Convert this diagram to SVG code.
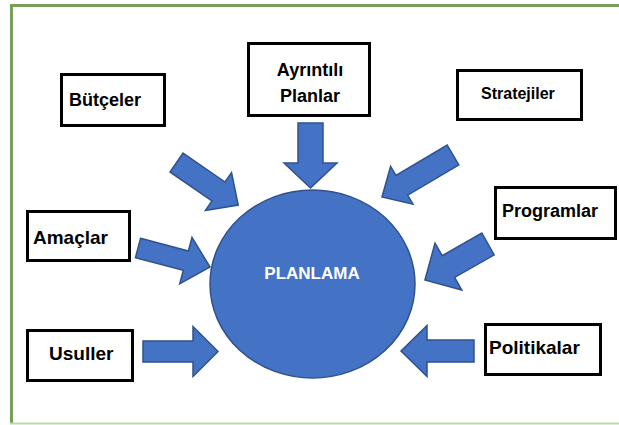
<svg xmlns="http://www.w3.org/2000/svg" width="619" height="425" viewBox="0 0 619 425">
<style>
.box{fill:#fff;stroke:#000;stroke-width:3}
.lbl{font-family:"Liberation Sans",Arial,sans-serif;font-weight:bold;fill:#000}
.arr{fill:#4472C4;stroke:#2F528F;stroke-width:1.5;stroke-linejoin:miter}
</style>
<rect x="0" y="0" width="619" height="425" fill="#fff"/>
<g id="frame">
<line x1="11.5" y1="5.5" x2="619" y2="5.5" stroke="#76A05A" stroke-width="3"/>
<line x1="11.5" y1="4" x2="11.5" y2="424" stroke="#76A05A" stroke-width="3"/>
<line x1="10" y1="423.5" x2="619" y2="423.5" stroke="#B9DBA2" stroke-width="2"/>
</g>
<g id="connectors">
<polygon class="arr" transform="translate(310.5,123) rotate(90)" points="0,-12.5 40,-12.5 40,-26.5 65,0 40,26.5 40,12.5 0,12.5"/>
<polygon class="arr" transform="translate(176.5,162.5) rotate(34.6)" points="0,-11.5 51,-11.5 51,-23 75,0 51,23 51,11.5 0,11.5"/>
<polygon class="arr" transform="translate(453,155) rotate(149.4)" points="0,-11.5 59.5,-11.5 59.5,-22 82.5,0 59.5,22 59.5,11.5 0,11.5"/>
<polygon class="arr" transform="translate(138,248) rotate(14.8)" points="0,-10 49.5,-10 49.5,-24 74.5,0 49.5,24 49.5,10 0,10"/>
<polygon class="arr" transform="translate(143,351.5) rotate(0)" points="0,-10.5 50,-10.5 50,-25 75,0 50,25 50,10.5 0,10.5"/>
<polygon class="arr" transform="translate(488,244) rotate(150.3)" points="0,-12.5 45.6,-12.5 45.6,-27 72.6,0 45.6,27 45.6,12.5 0,12.5"/>
<polygon class="arr" transform="translate(474,351) rotate(180)" points="0,-11 47,-11 47,-25.5 73,0 47,25.5 47,11 0,11"/>
</g>
<g id="planlama">
<ellipse cx="312.5" cy="284" rx="102.5" ry="94" fill="#4472C4" stroke="#2F528F" stroke-width="1.5"/>
<text x="312" y="279" text-anchor="middle" font-family="Liberation Sans, Arial, sans-serif" font-weight="bold" font-size="17" fill="#fff">PLANLAMA</text>
</g>
<g id="butceler">
<rect class="box" x="61.5" y="74.5" width="103" height="51"/>
<text class="lbl" x="69" y="106" font-size="18">Bütçeler</text>
</g>
<g id="ayrintili-planlar">
<rect class="box" x="248.5" y="43.5" width="121" height="72"/>
<text class="lbl" x="310" y="76" font-size="18" text-anchor="middle">Ayrıntılı</text>
<text class="lbl" x="310" y="102" font-size="18" text-anchor="middle">Planlar</text>
</g>
<g id="stratejiler">
<rect class="box" x="457.5" y="70.5" width="124" height="49"/>
<text class="lbl" x="481" y="99" font-size="16">Stratejiler</text>
</g>
<g id="programlar">
<rect class="box" x="495.5" y="187.5" width="120" height="51"/>
<text class="lbl" x="502" y="217" font-size="18">Programlar</text>
</g>
<g id="amaclar">
<rect class="box" x="27.5" y="211.5" width="102" height="49"/>
<text class="lbl" x="33" y="244" font-size="19">Amaçlar</text>
</g>
<g id="usuller">
<rect class="box" x="27.5" y="330.5" width="105" height="50"/>
<text class="lbl" x="49" y="360" font-size="19">Usuller</text>
</g>
<g id="politikalar">
<rect class="box" x="485.5" y="324.5" width="115" height="50"/>
<text class="lbl" x="489" y="354" font-size="19">Politikalar</text>
</g>
</svg>
